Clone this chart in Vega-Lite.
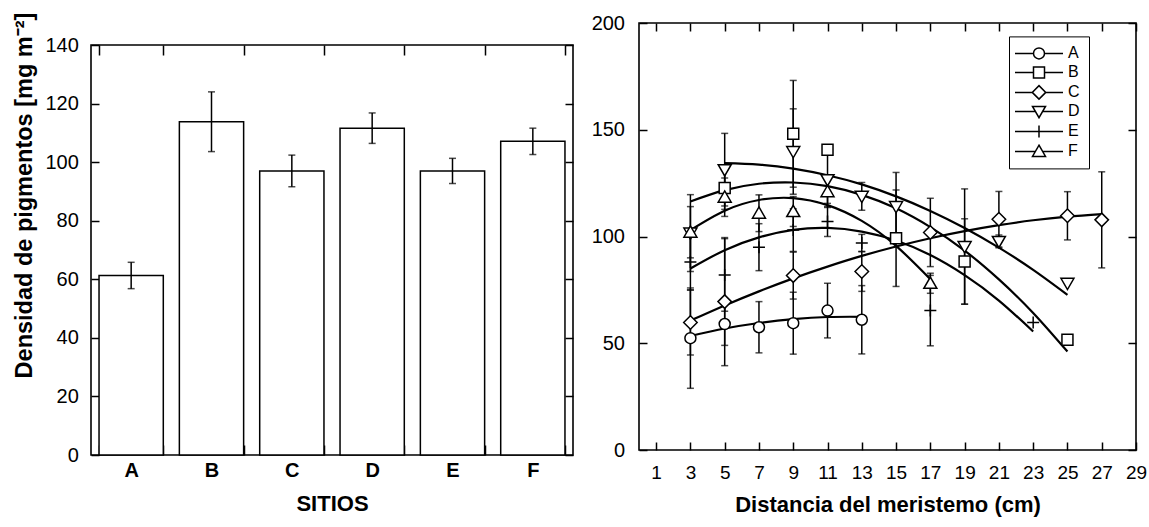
{
  "$schema": "https://vega.github.io/schema/vega-lite/v6.json",
  "padding": {"left": 12, "top": 11, "right": 0, "bottom": 0},
  "background": "white",
  "config": {
    "font": "Liberation Sans",
    "view": {"stroke": "black", "strokeWidth": 1.6},
    "axis": {"domain": false, "grid": false, "ticks": true, "tickColor": "black", "tickWidth": 1.5, "labelColor": "black", "titleColor": "black", "labelFont": "Liberation Sans", "titleFont": "Liberation Sans", "labelFontSize": 20, "titleFontSize": 22, "titleFontWeight": "bold"}
  },
  "datasets": {
    "bars": [
      {"sitio": "A", "v": 61.3, "e": 4.5},
      {"sitio": "B", "v": 113.8, "e": 10.2},
      {"sitio": "C", "v": 97.0, "e": 5.4},
      {"sitio": "D", "v": 111.6, "e": 5.2},
      {"sitio": "E", "v": 97.0, "e": 4.3},
      {"sitio": "F", "v": 107.1, "e": 4.5}
    ],
    "pts": [
      {"s": "A", "x": 3, "v": 52.4, "e": 23.5},
      {"s": "A", "x": 5, "v": 59.0, "e": 10},
      {"s": "A", "x": 7, "v": 57.5, "e": 12},
      {"s": "A", "x": 9, "v": 59.4, "e": 14.5},
      {"s": "A", "x": 11, "v": 65.3, "e": 12.8},
      {"s": "A", "x": 13, "v": 61.0, "e": 16},
      {"s": "B", "x": 5, "v": 122.7, "e": 10},
      {"s": "B", "x": 9, "v": 148.1, "e": 25},
      {"s": "B", "x": 11, "v": 140.6, "e": 2},
      {"s": "B", "x": 15, "v": 99.2, "e": 22.6},
      {"s": "B", "x": 19, "v": 88.3, "e": 20},
      {"s": "B", "x": 25, "v": 51.6, "e": 0},
      {"s": "C", "x": 3, "v": 59.7, "e": 15.2},
      {"s": "C", "x": 5, "v": 69.5, "e": 30},
      {"s": "C", "x": 9, "v": 81.7, "e": 11},
      {"s": "C", "x": 13, "v": 83.6, "e": 9.3},
      {"s": "C", "x": 17, "v": 101.9, "e": 16},
      {"s": "C", "x": 21, "v": 108.1, "e": 13},
      {"s": "C", "x": 25, "v": 109.7, "e": 11.3},
      {"s": "C", "x": 27, "v": 107.8, "e": 22.5},
      {"s": "D", "x": 3, "v": 101.6, "e": 18},
      {"s": "D", "x": 5, "v": 131.3, "e": 17},
      {"s": "D", "x": 9, "v": 139.8, "e": 20},
      {"s": "D", "x": 11, "v": 126.6, "e": 13},
      {"s": "D", "x": 13, "v": 118.8, "e": 6.5},
      {"s": "D", "x": 15, "v": 114.0, "e": 16},
      {"s": "D", "x": 19, "v": 95.3, "e": 27},
      {"s": "D", "x": 21, "v": 97.7, "e": 3},
      {"s": "D", "x": 25, "v": 78.1, "e": 0},
      {"s": "E", "x": 3, "v": 88.0, "e": 13},
      {"s": "E", "x": 5, "v": 82.0, "e": 17},
      {"s": "E", "x": 7, "v": 95.0, "e": 11},
      {"s": "E", "x": 9, "v": 103.0, "e": 10},
      {"s": "E", "x": 11, "v": 107.0, "e": 7},
      {"s": "E", "x": 13, "v": 97.0, "e": 4},
      {"s": "E", "x": 17, "v": 65.3, "e": 16.5},
      {"s": "E", "x": 23, "v": 59.7, "e": 0},
      {"s": "F", "x": 3, "v": 102.0, "e": 12},
      {"s": "F", "x": 5, "v": 118.4, "e": 9},
      {"s": "F", "x": 7, "v": 110.9, "e": 8.6},
      {"s": "F", "x": 9, "v": 111.7, "e": 7},
      {"s": "F", "x": 11, "v": 121.0, "e": 5.5},
      {"s": "F", "x": 17, "v": 78.1, "e": 4.7}
    ],
    "fit": [
      {"s": "A", "x": 3, "v": 53.4}, {"s": "A", "x": 5, "v": 56.9}, {"s": "A", "x": 7, "v": 59.5}, {"s": "A", "x": 9, "v": 61.3}, {"s": "A", "x": 11, "v": 62.3}, {"s": "A", "x": 13, "v": 62.4},
      {"s": "B", "x": 3, "v": 116.4}, {"s": "B", "x": 5, "v": 121.7}, {"s": "B", "x": 7, "v": 124.7}, {"s": "B", "x": 9, "v": 125.3}, {"s": "B", "x": 11, "v": 123.6}, {"s": "B", "x": 13, "v": 119.5}, {"s": "B", "x": 15, "v": 113.2}, {"s": "B", "x": 17, "v": 104.4}, {"s": "B", "x": 19, "v": 93.4}, {"s": "B", "x": 21, "v": 79.9}, {"s": "B", "x": 23, "v": 64.2}, {"s": "B", "x": 25, "v": 46.1},
      {"s": "C", "x": 3, "v": 60.6}, {"s": "C", "x": 5, "v": 67.7}, {"s": "C", "x": 7, "v": 74.3}, {"s": "C", "x": 9, "v": 80.4}, {"s": "C", "x": 11, "v": 85.9}, {"s": "C", "x": 13, "v": 90.9}, {"s": "C", "x": 15, "v": 95.3}, {"s": "C", "x": 17, "v": 99.2}, {"s": "C", "x": 19, "v": 102.5}, {"s": "C", "x": 21, "v": 105.3}, {"s": "C", "x": 23, "v": 107.6}, {"s": "C", "x": 25, "v": 109.3}, {"s": "C", "x": 27, "v": 110.5},
      {"s": "D", "x": 5, "v": 134.4}, {"s": "D", "x": 7, "v": 133.7}, {"s": "D", "x": 9, "v": 131.8}, {"s": "D", "x": 11, "v": 128.7}, {"s": "D", "x": 13, "v": 124.4}, {"s": "D", "x": 15, "v": 118.8}, {"s": "D", "x": 17, "v": 112.0}, {"s": "D", "x": 19, "v": 104.0}, {"s": "D", "x": 21, "v": 94.8}, {"s": "D", "x": 23, "v": 84.4}, {"s": "D", "x": 25, "v": 72.7},
      {"s": "E", "x": 3, "v": 85.0}, {"s": "E", "x": 5, "v": 93.6}, {"s": "E", "x": 7, "v": 99.6}, {"s": "E", "x": 9, "v": 103.1}, {"s": "E", "x": 11, "v": 104.0}, {"s": "E", "x": 13, "v": 102.3}, {"s": "E", "x": 15, "v": 98.1}, {"s": "E", "x": 17, "v": 91.3}, {"s": "E", "x": 19, "v": 81.9}, {"s": "E", "x": 21, "v": 70.0}, {"s": "E", "x": 23, "v": 55.5},
      {"s": "F", "x": 3, "v": 103.0}, {"s": "F", "x": 5, "v": 112.1}, {"s": "F", "x": 7, "v": 117.1}, {"s": "F", "x": 9, "v": 118.0}, {"s": "F", "x": 11, "v": 114.7}, {"s": "F", "x": 13, "v": 107.3}, {"s": "F", "x": 15, "v": 95.6}, {"s": "F", "x": 17, "v": 80.0}
    ]
  },
  "spacing": 15,
  "resolve": {"legend": {"shape": "independent"}},
  "hconcat": [
    {
      "spacing": 0,
      "bounds": "flush",
      "vconcat": [
        {
          "width": 482,
          "height": 21.4,
          "view": {"stroke": null},
          "data": {"values": []},
          "mark": "point"
        },
        {
          "width": 482,
          "height": 410,
          "data": {"name": "bars"},
          "layer": [
            {
              "mark": {"type": "bar", "fill": "white", "stroke": "black", "strokeWidth": 1.5},
              "encoding": {
                "x": {"field": "sitio", "type": "nominal", "sort": null, "scale": {"paddingInner": 0.2, "paddingOuter": 0.1},
                  "axis": {"orient": "bottom", "title": "SITIOS", "labelAngle": 0, "tickBand": "extent", "tickSize": -10, "labelPadding": 15, "labelFontWeight": "bold", "titlePadding": 13}},
                "y": {"field": "v", "type": "quantitative", "scale": {"domain": [0, 140], "nice": false},
                  "axis": {"orient": "left", "title": "Densidad de pigmentos [mg m⁻²]", "titleFontSize": 23.5, "values": [0, 20, 40, 60, 80, 100, 120, 140], "tickSize": -8, "labelPadding": 20.7, "titleY": 150, "titleAlign": "center", "titlePadding": 8}}
              }
            },
            {
              "mark": {"type": "errorbar", "ticks": true, "thickness": 1.5, "size": 7, "color": "black"},
              "encoding": {
                "x": {"field": "sitio", "type": "nominal", "sort": null, "axis": null},
                "y": {"field": "v", "type": "quantitative", "axis": null},
                "yError": {"field": "e"}
              }
            },
            {
              "mark": {"type": "bar", "opacity": 0},
              "encoding": {
                "x": {"field": "sitio", "type": "nominal", "sort": null, "axis": {"orient": "top", "title": null, "labels": false, "tickBand": "extent", "tickSize": -10}},
                "y": {"field": "v", "type": "quantitative", "axis": {"orient": "right", "title": null, "labels": false, "values": [0, 20, 40, 60, 80, 100, 120, 140], "tickSize": -8}}
              }
            }
          ],
          "resolve": {"axis": {"x": "independent", "y": "independent"}}
        }
      ]
    },
    {
      "width": 497,
      "height": 427,
      "layer": [
        {
          "data": {"name": "pts"},
          "transform": [{"filter": "datum.e > 0"}],
          "mark": {"type": "errorbar", "ticks": true, "thickness": 1.5, "size": 7, "color": "black"},
          "encoding": {
            "x": {"field": "x", "type": "quantitative", "scale": {"domain": [0, 29], "nice": false, "zero": false}, "axis": null},
            "y": {"field": "v", "type": "quantitative", "scale": {"domain": [0, 200], "nice": false}, "axis": null},
            "yError": {"field": "e"},
            "detail": {"field": "s"}
          }
        },
        {
          "data": {"name": "fit"},
          "mark": {"type": "line", "interpolate": "natural", "color": "black", "strokeWidth": 2.2},
          "encoding": {
            "x": {"field": "x", "type": "quantitative", "axis": {"orient": "bottom", "title": "Distancia del meristemo (cm)", "values": [1, 3, 5, 7, 9, 11, 13, 15, 17, 19, 21, 23, 25, 27, 29], "tickSize": -8, "labelPadding": 21.5, "labelFontSize": 19, "titlePadding": 12, "labelFlush": false}},
            "y": {"field": "v", "type": "quantitative", "axis": {"orient": "left", "title": null, "values": [0, 50, 100, 150, 200], "tickSize": -8, "labelPadding": 22.5}},
            "detail": {"field": "s"}
          }
        },
        {
          "data": {"name": "pts"},
          "mark": {"type": "point", "filled": true, "fill": "white", "stroke": "black", "strokeWidth": 1.5, "size": 100, "opacity": 1, "fillOpacity": 1},
          "encoding": {
            "x": {"field": "x", "type": "quantitative", "axis": null},
            "y": {"field": "v", "type": "quantitative", "axis": null},
            "shape": {"field": "s", "type": "nominal",
              "scale": {"domain": ["A", "B", "C", "D", "E", "F"],
                "range": ["M1.1,0A1.1,1.1,0,1,1,-1.1,0A1.1,1.1,0,1,1,1.1,0Z", "M-1.1,-1.1L1.1,-1.1L1.1,1.1L-1.1,1.1Z", "M0,-1.35L1.35,0L0,1.35L-1.35,0Z", "M-1.3,-1L1.3,-1L0,1.25Z", "M-1.2,0L1.2,0M0,-1.2L0,1.2", "M0,-1.25L1.3,1L-1.3,1Z"]},
              "legend": null
            }
          }
        },
        {
          "data": {"name": "pts"},
          "transform": [{"filter": "datum.e < -1"}],
          "mark": {"type": "point", "filled": false, "color": "black", "strokeWidth": 1.5, "size": 100, "opacity": 1},
          "encoding": {
            "x": {"field": "x", "type": "quantitative", "axis": null},
            "y": {"field": "v", "type": "quantitative", "axis": null},
            "shape": {"field": "s", "type": "nominal",
              "scale": {"domain": ["A", "B", "C", "D", "E", "F"],
                "range": ["M-4.8,0L-1.1,0M1.1,0L4.8,0M1.1,0A1.1,1.1,0,1,1,-1.1,0A1.1,1.1,0,1,1,1.1,0Z", "M-4.8,0L-1.1,0M1.1,0L4.8,0M-1.1,-1.1L1.1,-1.1L1.1,1.1L-1.1,1.1Z", "M-4.8,0L-1.35,0M1.35,0L4.8,0M0,-1.35L1.35,0L0,1.35L-1.35,0Z", "M-4.8,0L-0.72,0M0.72,0L4.8,0M-1.3,-1L1.3,-1L0,1.25Z", "M-4.8,0L4.8,0M0,-1.2L0,1.2", "M-4.8,0L-0.72,0M0.72,0L4.8,0M0,-1.25L1.3,1L-1.3,1Z"]},
              "legend": {"title": null, "orient": "none", "legendX": 370, "legendY": 13.4, "padding": 9, "strokeColor": "black", "fillColor": "white", "symbolSize": 100, "symbolOffset": 13, "labelOffset": 21, "labelFontSize": 16, "labelColor": "black", "rowPadding": 1, "symbolStrokeColor": "black", "symbolStrokeWidth": 1.5, "symbolOpacity": 1,
                "encode": {"legend": {"strokeWidth": {"value": 1.5}}}}
            }
          }
        },
        {
          "data": {"name": "pts"},
          "mark": {"type": "point", "opacity": 0},
          "encoding": {
            "x": {"field": "x", "type": "quantitative", "axis": {"orient": "top", "title": null, "labels": false, "values": [1, 3, 5, 7, 9, 11, 13, 15, 17, 19, 21, 23, 25, 27, 29], "tickSize": -8}},
            "y": {"field": "v", "type": "quantitative", "axis": {"orient": "right", "title": null, "labels": false, "values": [0, 50, 100, 150, 200], "tickSize": -8}}
          }
        }
      ],
      "resolve": {"axis": {"x": "independent", "y": "independent"}, "scale": {"shape": "independent"}}
    }
  ]
}
